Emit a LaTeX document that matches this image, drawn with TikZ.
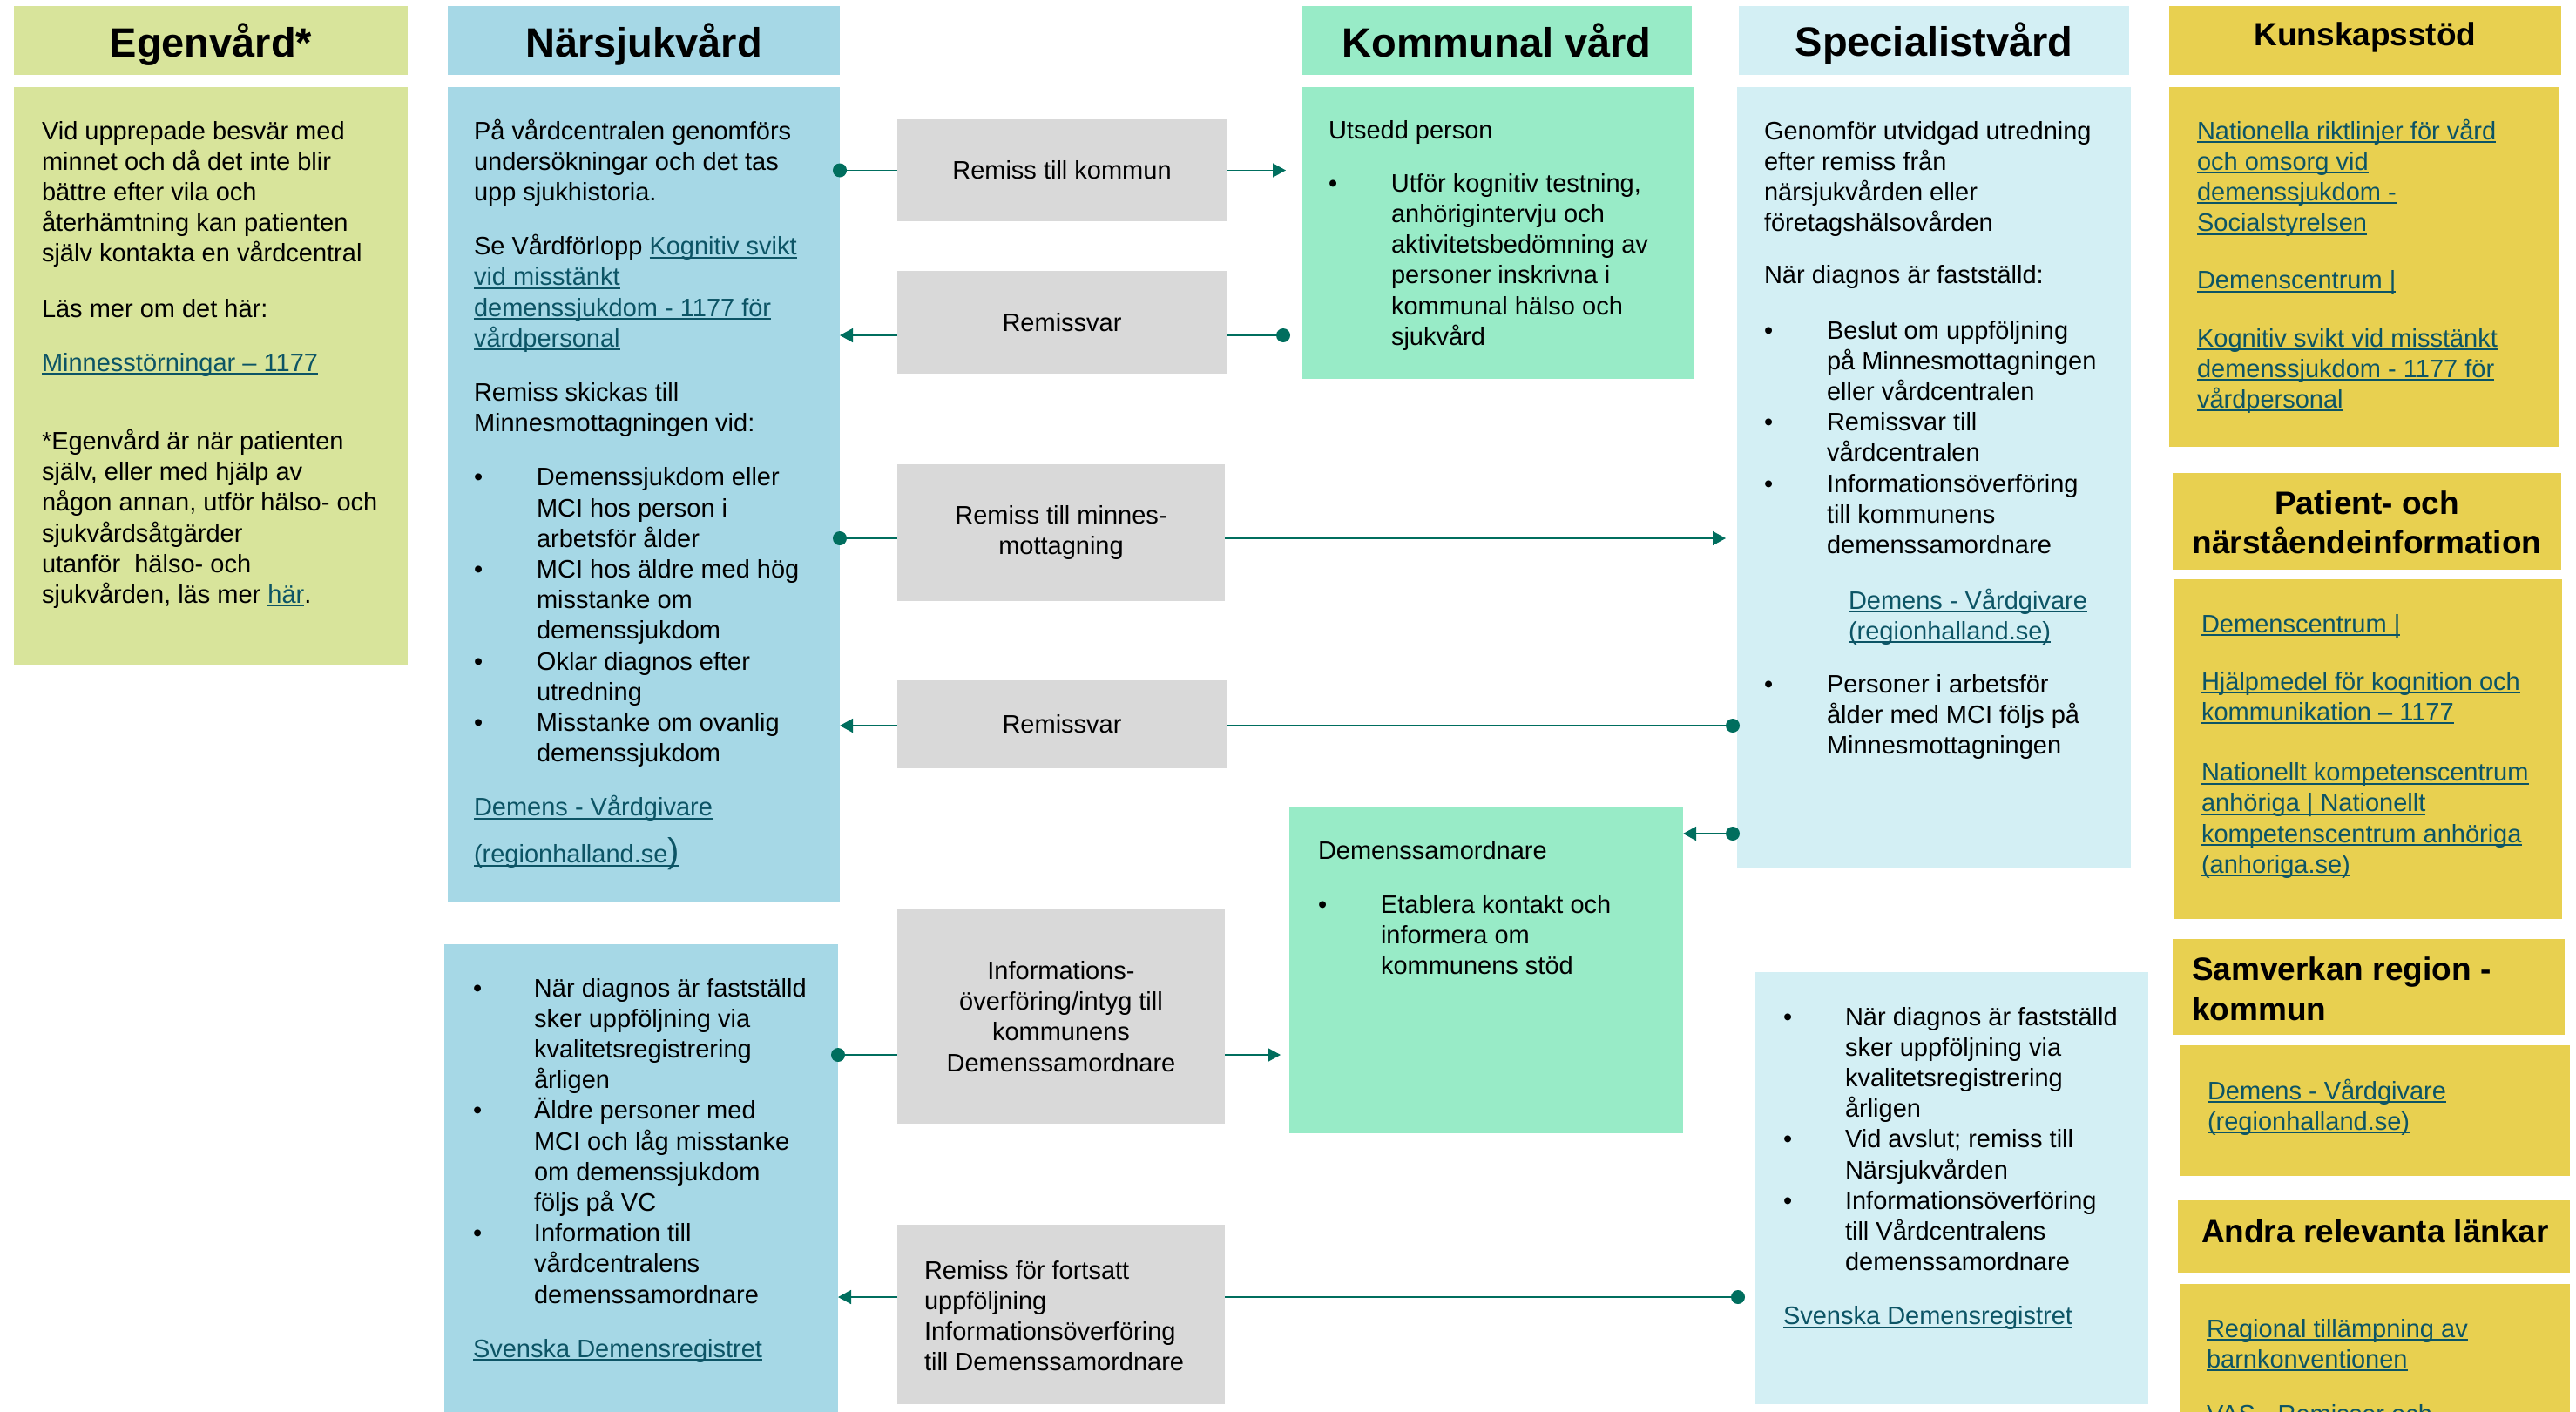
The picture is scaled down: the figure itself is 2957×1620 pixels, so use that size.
\documentclass[tikz,border=0pt]{standalone}
\usepackage{fontspec}
\setmainfont{Liberation Sans}
\usetikzlibrary{arrows.meta,calc}
\definecolor{egc}{HTML}{D8E49B}
\definecolor{nsc}{HTML}{A6D8E6}
\definecolor{kvc}{HTML}{98EBC7}
\definecolor{spc}{HTML}{D3EFF4}
\definecolor{yec}{HTML}{E8D050}
\definecolor{grc}{HTML}{D9D9D9}
\definecolor{tlc}{HTML}{006E5E}
\definecolor{lnc}{HTML}{0C5465}
\newcommand\bodyf{\fontsize{29}{35.2}\selectfont}
\newcommand\hdrf{\fontsize{47}{56}\selectfont\bfseries}
\newcommand\hdrs{\fontsize{37}{45.5}\selectfont\bfseries}
\newcommand\lk[1]{\leavevmode{\color{lnc}\setbox0=\hbox{#1}\rlap{\rule[-4pt]{\wd0}{2pt}}\box0}}
\newcommand\myb[1][72pt]{\leavevmode\makebox[#1][l]{•}}
\newcommand\myi[1][72pt]{\leavevmode\hspace*{#1}}
\newcommand\tb[2][440pt]{\begin{minipage}[t]{#1}\raggedright #2\end{minipage}}
\newcommand\tbc[2][440pt]{\begin{minipage}[t]{#1}\centering #2\end{minipage}}
\begin{document}
\begin{tikzpicture}[x=1pt,y=-1pt,
 box/.style={draw=none,inner sep=0pt,outer sep=0pt,anchor=north west},
 txt/.style={anchor=base west,inner sep=0pt,outer sep=0pt,font=\bodyf},
 hd/.style={anchor=base,inner sep=0pt,outer sep=0pt,font=\hdrf},
 gbox/.style={box,fill=grc,align=center,font=\bodyf},
 conn/.style={draw=tlc,line width=1.6pt},
 tip/.style={-{Triangle[length=15pt,width=16pt]}},
 dot/.style={fill=tlc}
]
\clip (0,0) rectangle (2957,1620);
% header boxes
\node[box,fill=egc,minimum width=452pt,minimum height=79pt] (egh) at (16,7) {};
\node[box,fill=nsc,minimum width=450pt,minimum height=79pt] (nsh) at (514,7) {};
\node[box,fill=kvc,minimum width=448pt,minimum height=79pt] (kvh) at (1494,7) {};
\node[box,fill=spc,minimum width=448pt,minimum height=79pt] (sph) at (1996,7) {};
\node[box,fill=yec,minimum width=450pt,minimum height=79pt] (kuh) at (2490,7) {};
\node[box,fill=yec,minimum width=446pt,minimum height=111pt] (pah) at (2494,543) {};
\node[box,fill=yec,minimum width=450pt,minimum height=110pt] (svh) at (2494,1078) {};
\node[box,fill=yec,minimum width=450pt,minimum height=83pt] (anh) at (2500,1378) {};
% body boxes
\node[box,fill=egc,minimum width=452pt,minimum height=664pt] (egb) at (16,100) {};
\node[box,fill=nsc,minimum width=450pt,minimum height=936pt] (nsb) at (514,100) {};
\node[box,fill=nsc,minimum width=452pt,minimum height=540pt] (nsl) at (510,1084) {};
\node[box,fill=kvc,minimum width=450pt,minimum height=335pt] (kvb) at (1494,100) {};
\node[box,fill=kvc,minimum width=452pt,minimum height=375pt] (dsb) at (1480,926) {};
\node[box,fill=spc,minimum width=452pt,minimum height=897pt] (spb) at (1994,100) {};
\node[box,fill=spc,minimum width=452pt,minimum height=496pt] (spl) at (2014,1116) {};
\node[box,fill=yec,minimum width=448pt,minimum height=413pt] (kub) at (2490,100) {};
\node[box,fill=yec,minimum width=445pt,minimum height=390pt] (pab) at (2496,665) {};
\node[box,fill=yec,minimum width=448pt,minimum height=150pt] (svb) at (2502,1200) {};
\node[box,fill=yec,minimum width=448pt,minimum height=150pt] (anb) at (2502,1474) {};
% gray boxes
\node[gbox,minimum width=378pt,minimum height=117pt] (g1) at (1030,137) {Remiss till kommun};
\node[gbox,minimum width=378pt,minimum height=118pt] (g2) at (1030,311) {Remissvar};
\node[gbox,minimum width=376pt,minimum height=157pt] (g3) at (1030,533) {Remiss till minnes-\\mottagning};
\node[gbox,minimum width=378pt,minimum height=101pt] (g4) at (1030,781) {Remissvar};
\node[gbox,minimum width=376pt,minimum height=246pt] (g5) at (1030,1044) {Informations-\\överföring/intyg till\\kommunens\\Demenssamordnare};
\node[gbox,minimum width=376pt,minimum height=206pt] (g6) at (1030,1406) {};
\node[txt] (g6t) at (1061,1468) {\tb[340pt]{Remiss för fortsatt\\uppföljning\\Informationsöverföring\\till Demenssamordnare}};
% header texts
\node[hd] (eght) at (242,65) {Egenvård*};
\node[hd] (nsht) at (739,65) {Närsjukvård};
\node[hd] (kvht) at (1718,65) {Kommunal vård};
\node[hd] (spht) at (2220,64) {Specialistvård};
\node[hd,font=\hdrs] (kuht) at (2715,52) {Kunskapsstöd};
\node[hd,font=\hdrs] (paht) at (2717,590) {\tbc[446pt]{Patient- och\\närståendeinformation}};
\node[txt,font=\hdrs] (svht) at (2516,1125.5) {\tb[420pt]{Samverkan region -\\kommun}};
\node[txt,font=\hdrs] (anht) at (2527,1426.5) {Andra relevanta länkar};
% body texts
\node[txt] (egt) at (48,160) {\tb{Vid upprepade besvär med\\minnet och då det inte blir\\bättre efter vila och\\återhämtning kan patienten\\själv kontakta en vårdcentral\\[28pt]Läs mer om det här:\\[27pt]\lk{Minnesstörningar – 1177}\\[55pt]*Egenvård är när patienten\\själv, eller med hjälp av\\någon annan, utför hälso- och\\sjukvårdsåtgärder\\utanför\ \ hälso- och\\sjukvården, läs mer \lk{här}.}};
\node[txt] (nst) at (544,160) {\tb{På vårdcentralen genomförs\\undersökningar och det tas\\upp sjukhistoria.\\[27pt]Se Vårdförlopp \lk{Kognitiv svikt}\\\lk{vid misstänkt}\\\lk{demenssjukdom - 1177 för}\\\lk{vårdpersonal}\\[27pt]Remiss skickas till\\Minnesmottagningen vid:\\[27pt]\myb Demenssjukdom eller\\\myi MCI hos person i\\\myi arbetsför ålder\\\myb MCI hos äldre med hög\\\myi misstanke om\\\myi demenssjukdom\\\myb Oklar diagnos efter\\\myi utredning\\\myb Misstanke om ovanlig\\\myi demenssjukdom\\[27pt]\lk{Demens - Vårdgivare}\\[18.5pt]\lk{(regionhalland.se{\fontsize{40}{40}\selectfont)}}}};
\node[txt] (nslt) at (543,1144) {\tb{\myb[70pt]När diagnos är fastställd\\\myi[70pt]sker uppföljning via\\\myi[70pt]kvalitetsregistrering\\\myi[70pt]årligen\\\myb[70pt]Äldre personer med\\\myi[70pt]MCI och låg misstanke\\\myi[70pt]om demenssjukdom\\\myi[70pt]följs på VC\\\myb[70pt]Information till\\\myi[70pt]vårdcentralens\\\myi[70pt]demenssamordnare\\[27pt]\lk{Svenska Demensregistret}}};
\node[txt] (kvt) at (1525,159) {\tb{Utsedd person\\[26pt]\myb Utför kognitiv testning,\\\myi anhörigintervju och\\\myi aktivitetsbedömning av\\\myi personer inskrivna i\\\myi kommunal hälso och\\\myi sjukvård}};
\node[txt] (dst) at (1513,986) {\tb{Demenssamordnare\\[27pt]\myb Etablera kontakt och\\\myi informera om\\\myi kommunens stöd}};
\node[txt] (spt) at (2025,160) {\tb{Genomför utvidgad utredning\\efter remiss från\\närsjukvården eller\\företagshälsovården\\[25pt]När diagnos är fastställd:\\[28pt]\myb Beslut om uppföljning\\\myi på Minnesmottagningen\\\myi eller vårdcentralen\\\myb Remissvar till\\\myi vårdcentralen\\\myb Informationsöverföring\\\myi till kommunens\\\myi demenssamordnare\\[28.5pt]\myi[97pt]\lk{Demens - Vårdgivare}\\\myi[97pt]\lk{(regionhalland.se)}\\[26pt]\myb Personer i arbetsför\\\myi ålder med MCI följs på\\\myi Minnesmottagningen}};
\node[txt] (splt) at (2047,1177) {\tb{\myb[71pt]När diagnos är fastställd\\\myi[71pt]sker uppföljning via\\\myi[71pt]kvalitetsregistrering\\\myi[71pt]årligen\\\myb[71pt]Vid avslut; remiss till\\\myi[71pt]Närsjukvården\\\myb[71pt]Informationsöverföring\\\myi[71pt]till Vårdcentralens\\\myi[71pt]demenssamordnare\\[27pt]\lk{Svenska Demensregistret}}};
\node[txt] (kut) at (2522,160) {\tb{\lk{Nationella riktlinjer för vård}\\\lk{och omsorg vid}\\\lk{demenssjukdom -}\\\lk{Socialstyrelsen}\\[31pt]\lk{Demenscentrum |}\\[31pt]\lk{Kognitiv svikt vid misstänkt}\\\lk{demenssjukdom - 1177 för}\\\lk{vårdpersonal}}};
\node[txt] (pat) at (2527,726) {\tb{\lk{Demenscentrum |}\\[31pt]\lk{Hjälpmedel för kognition och}\\\lk{kommunikation – 1177}\\[34pt]\lk{Nationellt kompetenscentrum}\\\lk{anhöriga | Nationellt}\\\lk{kompetenscentrum anhöriga}\\\lk{(anhoriga.se)}}};
\node[txt] (svt) at (2534,1262) {\tb{\lk{Demens - Vårdgivare}\\\lk{(regionhalland.se)}}};
\node[txt] (ant) at (2533,1535) {\tb{\lk{Regional tillämpning av}\\\lk{barnkonventionen}\\[28pt]\lk{VAS - Remisser och}}};
% connectors
\coordinate (c1a) at (nsb.east |- g1.west);
\draw[conn] (c1a) -- (g1.west);
\fill[dot] (c1a) circle[radius=8pt];
\draw[conn,tip] (g1.east) -- ($(kvb.west |- g1.east)+(-18,0)$);
\coordinate (c2l) at ($(g2.west)+(0,15)$);
\coordinate (c2r) at ($(g2.east)+(0,15)$);
\draw[conn,tip] (c2l) -- (nsb.east |- c2l);
\coordinate (c2d) at ($(kvb.west |- c2r)+(-21,0)$);
\draw[conn] (c2r) -- (c2d);
\fill[dot] (c2d) circle[radius=8pt];
\coordinate (c3l) at ($(g3.west)+(0,6.5)$);
\coordinate (c3r) at ($(g3.east)+(0,6.5)$);
\coordinate (c3a) at (nsb.east |- c3l);
\draw[conn] (c3a) -- (c3l);
\fill[dot] (c3a) circle[radius=8pt];
\draw[conn,tip] (c3r) -- ($(spb.west |- c3r)+(-13,0)$);
\coordinate (c4l) at ($(g4.west)+(0,1.5)$);
\coordinate (c4r) at ($(g4.east)+(0,1.5)$);
\draw[conn,tip] (c4l) -- (nsb.east |- c4l);
\coordinate (c4d) at ($(spb.west |- c4r)+(-5,0)$);
\draw[conn] (c4r) -- (c4d);
\fill[dot] (c4d) circle[radius=8pt];
\coordinate (c5l) at ($(g5.west)+(0,44)$);
\coordinate (c5r) at ($(g5.east)+(0,44)$);
\coordinate (c5a) at (nsl.east |- c5l);
\draw[conn] (c5a) -- (c5l);
\fill[dot] (c5a) circle[radius=8pt];
\draw[conn,tip] (c5r) -- ($(dsb.west |- c5r)+(-10,0)$);
\coordinate (c6l) at ($(g6.west)+(0,-20)$);
\coordinate (c6r) at ($(g6.east)+(0,-20)$);
\draw[conn,tip] (c6l) -- (nsl.east |- c6l);
\coordinate (c6d) at ($(spl.west |- c6r)+(-19,0)$);
\draw[conn] (c6r) -- (c6d);
\fill[dot] (c6d) circle[radius=8pt];
\coordinate (c7d) at ($(spb.south west)+(-5,-40)$);
\draw[conn,tip] (c7d) -- (dsb.east |- c7d);
\fill[dot] (c7d) circle[radius=8pt];
\end{tikzpicture}
\end{document}
